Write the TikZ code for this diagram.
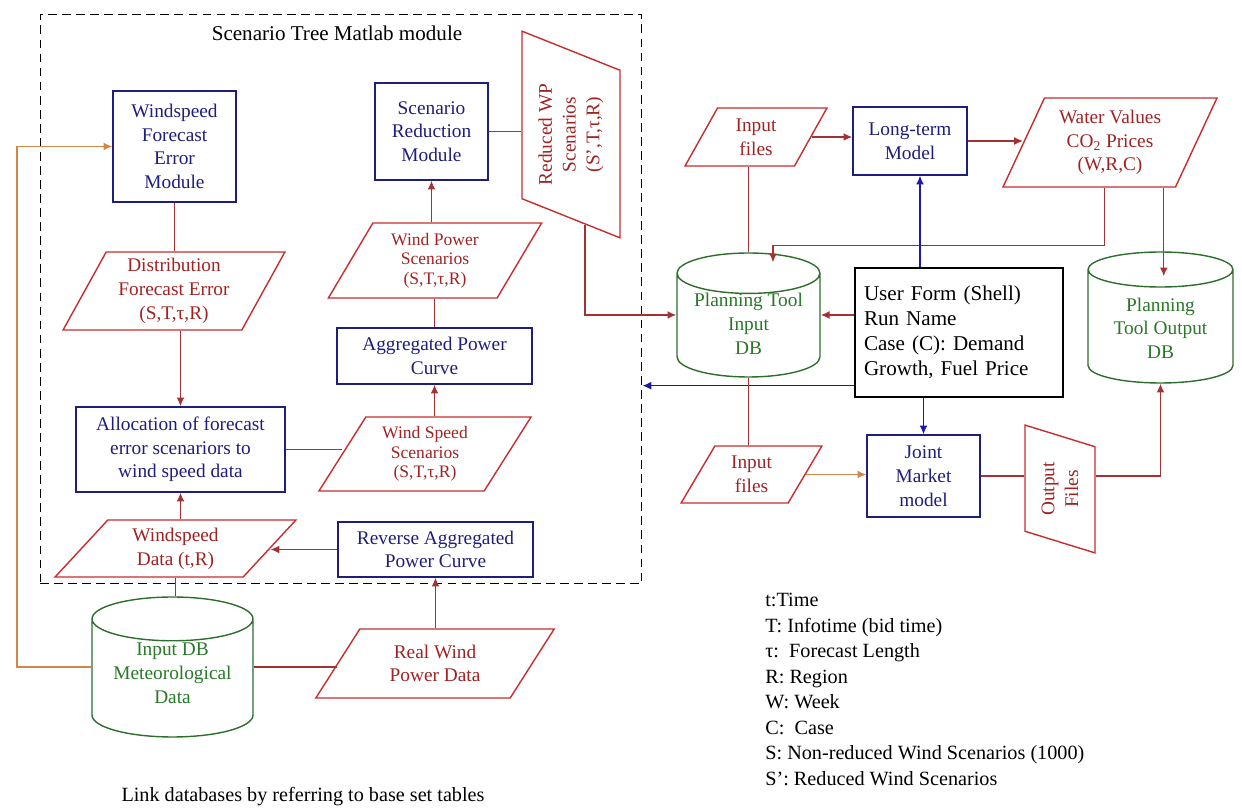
\documentclass[tikz,border=0pt]{standalone}
\usepackage{fontspec}
\setmainfont{Liberation Serif}
\usetikzlibrary{positioning}
\usetikzlibrary{shapes.geometric}
\usetikzlibrary{calc}
\usetikzlibrary{arrows.meta}

\definecolor{boxblue}{RGB}{30,30,125}
\definecolor{parared}{RGB}{200,45,45}
\definecolor{textred}{RGB}{160,35,35}
\definecolor{linered}{RGB}{165,50,50}
\definecolor{dbgreen}{RGB}{45,110,45}
\definecolor{textgreen}{RGB}{40,120,40}
\definecolor{linkorange}{RGB}{210,135,70}
\definecolor{linkblue}{RGB}{25,25,175}

% database label, moved a little inside the cylinder
\newcommand{\dbtext}[2][0cm]{\raisebox{#1}[0pt][0pt]{\begin{tabular}{@{}c@{}}#2\end{tabular}}}

\begin{document}
\begin{tikzpicture}[x=0.02cm,y=-0.02cm,>={Latex[length=5pt,width=4.5pt]},
  font=\fontsize{11}{13.5}\selectfont,
  module/.style={draw=boxblue,text=boxblue,line width=0.8pt,align=center,inner sep=1pt},
  lean/.style={trapezium left angle=#1,trapezium right angle={180-#1}},
  datafile/.style={trapezium,trapezium stretches=true,draw=parared,text=textred,line width=0.8pt,align=center,inner sep=1pt},
  smalltext/.style={font=\fontsize{10}{11.2}\selectfont},
  database/.style={cylinder,shape border rotate=90,aspect=0.36,anchor=shape center,draw=dbgreen,text=textgreen,line width=0.8pt,inner sep=1pt},
  link/.style={draw=linered,line width=0.8pt},
  flow/.style={link,->},
  olink/.style={draw=linkorange,line width=0.8pt,->},
  blink/.style={draw=linkblue,line width=0.8pt,->}]

\useasboundingbox (0,0) rectangle (1242,810);

% scenario tree module frame
\node[draw,dashed,dash pattern=on 5pt off 3pt,line width=0.6pt,minimum width=12.04cm,minimum height=11.4cm] (stm) at (341,299) {};
\node (stmtitle) at (337,33) {\fontsize{12}{14}\selectfont Scenario Tree Matlab module};

%%%% left column
\node[module,minimum width=2.46cm,minimum height=2.22cm] (wfe) at (174.5,146.5) {Windspeed\\Forecast\\Error\\Module};
\node[datafile,lean=62,minimum width=4.44cm,minimum height=1.56cm] (dfe) at (174,291) {Distribution\\Forecast Error\\(S,T,τ,R)};
\node[module,minimum width=4.18cm,minimum height=1.7cm] (alloc) at (180.5,449.5) {Allocation of forecast\\error scenariors to\\wind speed data};
\node[datafile,lean=52,minimum width=4.82cm,minimum height=1.14cm] (wsd) at (175.5,548.5) {Windspeed\\Data (t,R)};
\node[database,minimum width=3.22cm,minimum height=2.8cm] (metdb) at (172.5,667) {\dbtext[0.02cm]{Input DB\\Meteorological\\Data}};

%%%% middle column
\node[module,minimum width=2.26cm,minimum height=1.94cm] (sred) at (431.5,131.5) {Scenario\\Reduction\\Module};
\node[datafile,smalltext,lean=61,minimum width=4.28cm,minimum height=1.5cm] (wps) at (435,260.5) {Wind Power\\Scenarios\\(S,T,τ,R)};
\node[module,minimum width=3.9cm,minimum height=1.12cm] (apc) at (434.5,356) {Aggregated Power\\Curve};
\node[datafile,smalltext,lean=59,minimum width=4.28cm,minimum height=1.48cm] (wss) at (425,454) {Wind Speed\\Scenarios\\(S,T,τ,R)};
\node[module,minimum width=3.9cm,minimum height=1.1cm] (rapc) at (435.5,549.5) {Reverse Aggregated\\Power Curve};
\node[datafile,lean=56,minimum width=4.8cm,minimum height=1.38cm] (rwp) at (435,663.5) {Real Wind\\Power Data};
\node[datafile,lean=65,rotate=90,minimum width=4.14cm,minimum height=1.96cm] (reduced) at (571,134.5) {Reduced WP\\Scenarios\\(S’,T,τ,R)};

%%%% planning tool
\node[datafile,lean=65,minimum width=2.84cm,minimum height=1.16cm] (itop) at (756,137) {Input\\files};
\node[database,minimum width=2.86cm,minimum height=2.48cm] (ptin) at (748.5,315) {\dbtext[-0.06cm]{Planning Tool\\Input\\DB}};
\node[datafile,lean=63,minimum width=2.82cm,minimum height=1.14cm] (ibot) at (751.5,474.5) {Input\\files};
\node[module,minimum width=2.28cm,minimum height=1.36cm] (ltm) at (910,141) {Long-term\\Model};
\node[datafile,lean=64,minimum width=4.32cm,minimum height=1.78cm] (wv) at (1110,142.5) {Water Values\\CO\textsubscript{2} Prices\\(W,R,C)};
\node[draw=black,line width=0.8pt,minimum width=4.16cm,minimum height=2.58cm,text width=3.8cm,align=left,font=\fontsize{12}{14.2}\selectfont] (uform) at (959,332.5) {User Form (Shell)\\Run Name\\Case (C): Demand\\Growth, Fuel Price};
\node[database,minimum width=2.9cm,minimum height=2.62cm] (ptout) at (1160.5,317.5) {\dbtext[-0.13cm]{Planning\\Tool Output\\DB}};
\node[module,minimum width=2.26cm,minimum height=1.64cm] (jmm) at (923.5,476) {Joint\\Market\\model};
\node[datafile,lean=70,rotate=90,minimum width=2.56cm,minimum height=1.4cm] (ofiles) at (1060,489) {Output\\Files};

%%%% notes
\node[anchor=north west,align=left,inner sep=0pt,font=\fontsize{11.5}{14.5}\selectfont] (legend) at (765,593) {t:Time\\T: Infotime (bid time)\\τ:\ \ Forecast Length\\R: Region\\W: Week\\C:\ \ Case\\S: Non-reduced Wind Scenarios (1000)\\S’: Reduced Wind Scenarios};
\node[font=\fontsize{11.5}{14}\selectfont] (linknote) at (303,797) {Link databases by referring to base set tables};

%%%% connectors inside the module
\draw[link] (wfe.south) -- (wfe.south |- dfe.north);
\draw[flow] (alloc.north |- dfe.south) -- (alloc.north);
\draw[flow] (alloc.south |- wsd.north) -- (alloc.south);
\draw[link] (alloc.east) -- (alloc.east -| wss.west);
\draw[flow] (apc.south |- wss.north) -- (apc.south);
\draw[link] (apc.north) -- (apc.north |- wps.south);
\draw[flow] (sred.south |- wps.north) -- (sred.south);
\draw[link] (sred.east) -- (sred.east -| reduced.north);
\draw[flow] (rapc.west) -- (rapc.west -| wsd.east);

%%%% from the databases
\coordinate (lbend) at (17,0);
\draw[olink] (metdb.west |- metdb.shape center) -- (metdb.shape center -| lbend) |- (wfe.west);
\draw[link] (wsd.south) -- (wsd.south |- metdb.north);
\draw[link] (metdb.east |- metdb.shape center) -- (metdb.shape center -| rwp.west);
\draw[flow] (rapc.south |- rwp.north) -- (rapc.south);

%%%% planning tool links
\draw[flow] ($(reduced.top left corner)!0.64!(reduced.bottom left corner)$) |- (ptin.west |- ptin.shape center);
\draw[link] (ptin.north |- itop.south) -- (ptin.north);
\draw[flow] (itop.east) -- (itop.east -| ltm.west);
\draw[flow] (ltm.east) -- (ltm.east -| wv.west);
\coordinate (wvA) at ($(wv.bottom left corner)!0.59!(wv.bottom right corner)$);
\coordinate (wvB) at ($(wv.bottom left corner)!0.93!(wv.bottom right corner)$);
\draw[flow] (wvA) -- ++(0,58) -| ([xshift=0.49cm,yshift=-0.2cm]ptin.north);
\draw[flow] (wvB) -- ([yshift=-0.5cm]wvB |- ptout.north);
\draw[blink] ([xshift=0.2cm]ltm.south |- uform.north) -- ([xshift=0.2cm]ltm.south);
\draw[flow] (uform.west |- ptin.shape center) -- (ptin.east |- ptin.shape center);
\draw[blink] ([yshift=0.24cm]uform.south west) -- ([yshift=0.24cm]uform.south west -| stm.east);
\draw[blink] (jmm.north |- uform.south) -- (jmm.north);
\draw[link] (ptin.south) -- (ptin.south |- ibot.north);
\draw[olink] (ibot.east) -- (ibot.east -| jmm.west);
\draw[link] (jmm.east) -- (jmm.east -| ofiles.north);
\draw[flow] (jmm.east -| ofiles.south) -| (ptout.south);

\end{tikzpicture}
\end{document}
